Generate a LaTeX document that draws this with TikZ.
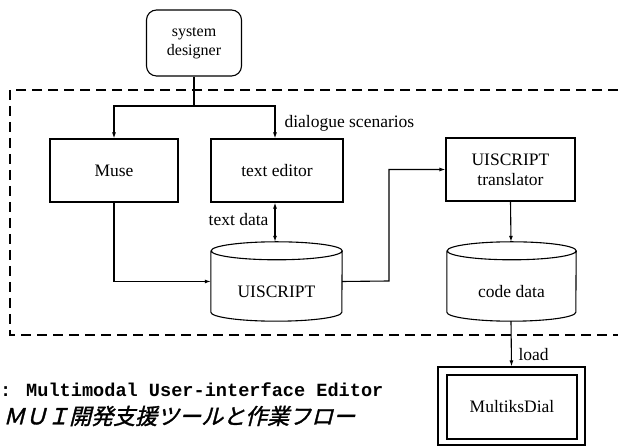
\documentclass[tikz,border=0pt]{standalone}
\usepackage{fontspec}
\setmainfont{Liberation Serif}
\newfontfamily\monofont{Liberation Mono}
\newfontfamily\jpfont[FakeSlant=0.25, FakeBold=1.5]{Noto Sans CJK JP}
\usetikzlibrary{arrows.meta}

\tikzset{
  every node/.style={font=\fontsize{17.5}{20}\selectfont},
  box/.style={draw, line width=1.1pt, minimum width=#1, minimum height=63, inner sep=0pt, align=center},
  dbnode/.style={minimum width=#1, minimum height=79, inner sep=0pt},
  conn/.style={line width=1.1pt},
  arr/.style={conn, -{Latex[length=6pt,width=4pt]}},
  frame/.style={line width=1.2pt, dash pattern=on 10pt off 6pt},
}

% cylinder outline around a named node: #1 name, #2 half width
\newcommand\drawdb[2]{%
  \draw[conn] ([yshift=-9pt]#1.north west) -- ([yshift=9pt]#1.south west)
    arc[start angle=180, end angle=360, x radius=#2, y radius=9pt]
    -- ([yshift=-9pt]#1.north east)
    arc[start angle=0, end angle=360, x radius=#2, y radius=9pt];
}

\begin{document}
\begin{tikzpicture}[x=1pt, y=1pt]
\useasboundingbox (0,0) rectangle (618,446);

% tool boundary (open to the right)
\draw[frame] (618,356) -- (10,356) -- (10,111) -- (618,111);

% nodes
\node[draw, line width=1.1pt, rounded corners=10pt, minimum width=95, minimum height=66,
      align=center, font=\fontsize{16}{18.5}\selectfont] (des) at (194,403) {system\\designer};
\node[box=128] (muse) at (114,275.5) {Muse};
\node[box=132] (ted) at (277,275.5) {text editor};
\node[box=129, font=\fontsize{17.5}{20}\selectfont] (trn) at (510.5,276.5) {UISCRIPT\\translator};

\node[dbnode=131] (uis) at (276.5,164.5) {};
\drawdb{uis}{65.5pt}
\node (uist) at (276.5,154) {UISCRIPT};

\node[dbnode=129] (cod) at (511.5,164.5) {};
\drawdb{cod}{64.5pt}
\node (codt) at (511.5,154) {code data};

\node[draw, line width=1.1pt, minimum width=147, minimum height=78, inner sep=0pt] (mdo) at (511.5,40) {};
\node[box=130, minimum height=64] (mdi) at (512,39) {MultiksDial};

% connectors
\coordinate (br) at (194,340);
\draw[conn] (des.south) -- (br);
\draw[arr] (br) -| (muse.north);
\draw[arr] (br) -| ([xshift=-2pt]ted.north);
\node[anchor=west] (dlg) at (281,323) {dialogue scenarios};

\draw[conn, {Latex[length=6pt,width=4pt]}-{Latex[length=6pt,width=4pt]}]
  ([xshift=-2pt]ted.south) -- ([xshift=-1.5pt]uis.north);
\node[anchor=east] (tdl) at (272,226) {text data};

\draw[arr] (muse.south) |- (uis.west);
\coordinate (turn) at (389,165);
\draw[arr] (uis.east) -- (turn) |- (trn.west);

\draw[arr] (trn.south) -- ([xshift=-0.5pt]cod.north);
\draw[arr] ([xshift=-0.5pt]cod.south) -- (cod.south |- mdo.north);
\node[anchor=west] (lod) at (515,91) {load};

% captions
\node[anchor=west, inner sep=0pt, font=\monofont\bfseries\fontsize{18.6}{20}\selectfont] (cap1) at (0,56)
  {: Multimodal User-interface Editor};
\node[anchor=west, inner sep=0pt, font=\jpfont\fontsize{22}{24}\selectfont] (cap2) at (3,30)
  {ＭＵＩ開発支援ツールと作業フロー};
\end{tikzpicture}
\end{document}
